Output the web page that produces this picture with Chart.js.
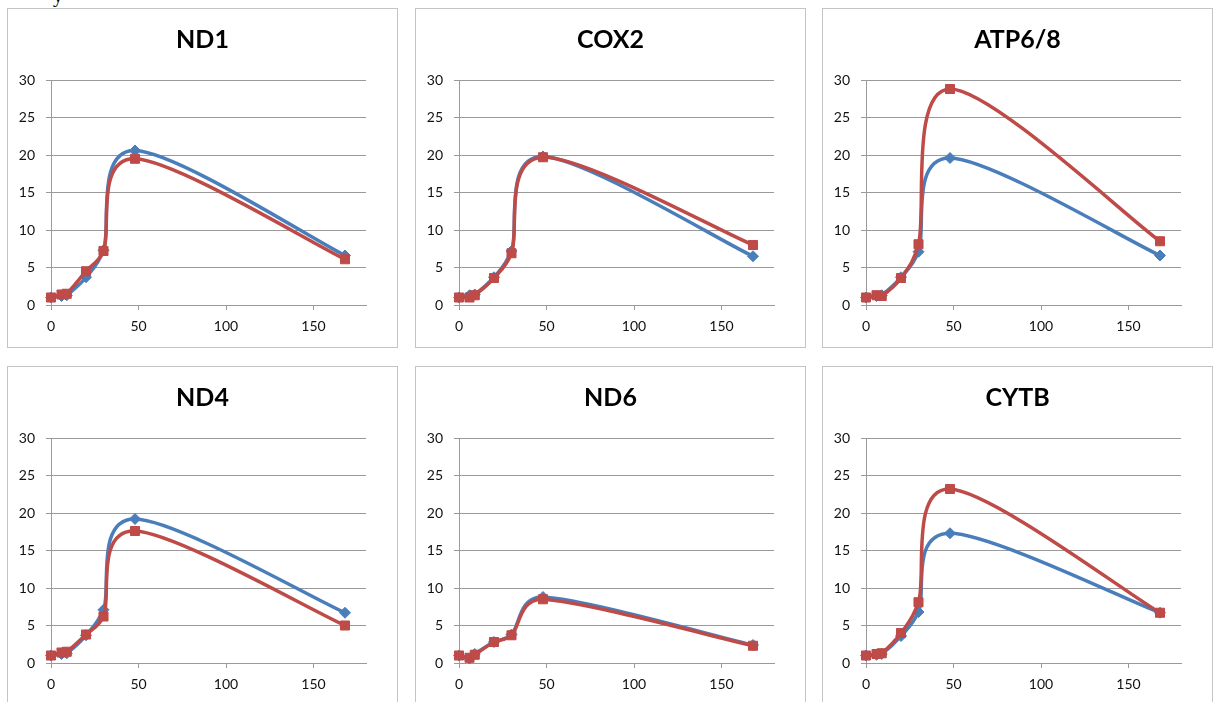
<!DOCTYPE html>
<html>
<head>
<meta charset="utf-8">
<script src="https://cdn.jsdelivr.net/npm/chart.js@4.4.1/dist/chart.umd.min.js"></script>
<style>
  html, body { margin:0; padding:0; background:#fff; width:1213px; height:702px; overflow:hidden; position:relative; }
  .panel { position:absolute; width:389px; height:338px; border:1px solid #c4c4c4; background:#fff; }
  .panel canvas { position:absolute; left:0; top:0; }
  .cut { position:absolute; left:53px; top:-16px; font-family:"Liberation Serif", serif; font-size:20px; color:#000; }
</style>
</head>
<body>
<div class="cut">y</div>
<div class="panel" style="left:7px;top:8px;"><canvas id="c0" width="389" height="338"></canvas></div>
<div class="panel" style="left:415px;top:8px;"><canvas id="c1" width="389" height="338"></canvas></div>
<div class="panel" style="left:822px;top:8px;"><canvas id="c2" width="389" height="338"></canvas></div>
<div class="panel" style="left:7px;top:366px;"><canvas id="c3" width="389" height="338"></canvas></div>
<div class="panel" style="left:415px;top:366px;"><canvas id="c4" width="389" height="338"></canvas></div>
<div class="panel" style="left:822px;top:366px;"><canvas id="c5" width="389" height="338"></canvas></div>
<script>
// ---- data ----
const HOURS = [0, 6, 9, 20, 30, 48, 168];
const X_TICKS = [0, 50, 100, 150];
const Y_TICKS = [0, 5, 10, 15, 20, 25, 30];
const TITLES = ['ND1', 'COX2', 'ATP6/8', 'ND4', 'ND6', 'CYTB'];

const ND1_S1  = [1.0, 1.2, 1.3, 3.7, 7.3, 20.6, 6.6];
const ND1_S2  = [1.0, 1.4, 1.5, 4.5, 7.2, 19.5, 6.1];
const COX2_S1 = [1.0, 1.3, 1.4, 3.7, 7.2, 19.8, 6.5];
const COX2_S2 = [1.0, 1.0, 1.3, 3.6, 6.9, 19.7, 8.0];
const ATP_S1  = [1.0, 1.2, 1.3, 3.7, 7.1, 19.6, 6.6];
const ATP_S2  = [1.0, 1.3, 1.2, 3.6, 8.1, 28.8, 8.5];
const ND4_S1  = [1.0, 1.2, 1.3, 3.7, 7.1, 19.2, 6.7];
const ND4_S2  = [1.0, 1.4, 1.5, 3.8, 6.2, 17.6, 5.0];
const ND6_S1  = [1.0, 0.6, 1.2, 2.8, 3.8, 8.8, 2.4];
const ND6_S2  = [1.0, 0.7, 1.1, 2.8, 3.7, 8.5, 2.3];
const CYTB_S1 = [1.0, 1.1, 1.2, 3.6, 6.8, 17.3, 6.7];
const CYTB_S2 = [1.0, 1.2, 1.3, 4.0, 8.1, 23.2, 6.7];

const SERIES1 = [ND1_S1, COX2_S1, ATP_S1, ND4_S1, ND6_S1, CYTB_S1];
const SERIES2 = [ND1_S2, COX2_S2, ATP_S2, ND4_S2, ND6_S2, CYTB_S2];

// ---- style ----
const BLUE = '#4A7EBB';
const RED = '#BE4B48';
const GRID = '#9a9a9a';
const FONT = 'Lato, "Open Sans", sans-serif';

// Excel-like smoothing: tangent (P[i+1]-P[i-1])/6, each arm limited to half its own segment
const excelSmooth = {
  id: 'excelSmooth',
  beforeDatasetDraw(chart, args) {
    const meta = args.meta;
    const line = meta.dataset;
    const pts = meta.data;
    const n = pts.length;
    for (let i = 0; i < n; i++) {
      const p = pts[i];
      const a = pts[Math.max(i - 1, 0)];
      const b = pts[Math.min(i + 1, n - 1)];
      const dx = (b.x - a.x) / 6, dy = (b.y - a.y) / 6;
      const arm = Math.hypot(dx, dy);
      let kIn = 1, kOut = 1;
      if (i > 0 && i < n - 1 && arm > 0) {
        const d01 = Math.hypot(p.x - a.x, p.y - a.y);
        const d12 = Math.hypot(b.x - p.x, b.y - p.y);
        kIn = Math.min(1, d01 / 2 / arm);
        kOut = Math.min(1, d12 / 2 / arm);
      }
      p.cp1x = p.x - dx * kIn; p.cp1y = p.y - dy * kIn;
      p.cp2x = p.x + dx * kOut; p.cp2y = p.y + dy * kOut;
    }
    line._pointsUpdated = true;
    line._path = undefined;
  }
};

function xy(vals) { return HOURS.map((h, i) => ({ x: h, y: vals[i] })); }

function makeChart(idx) {
  const ctx = document.getElementById('c' + idx);
  return new Chart(ctx, {
    type: 'scatter',
    data: {
      datasets: [
        { label: 'Series1', data: xy(SERIES1[idx]), showLine: true, tension: 0.4,
          borderColor: BLUE, backgroundColor: BLUE, borderWidth: 3.5,
          pointStyle: 'rectRot', pointRadius: 5.5, pointBorderWidth: 1,
          pointBorderColor: BLUE, pointBackgroundColor: BLUE, order: 1, clip: false },
        { label: 'Series2', data: xy(SERIES2[idx]), showLine: true, tension: 0.4,
          borderColor: RED, backgroundColor: RED, borderWidth: 3.5,
          pointStyle: 'rect', pointRadius: 6.4, pointBorderWidth: 1,
          pointBorderColor: RED, pointBackgroundColor: RED, order: 0, clip: false }
      ]
    },
    options: {
      responsive: false, animation: false, devicePixelRatio: 1,
      layout: { padding: 0 },
      plugins: {
        legend: { display: false },
        tooltip: { enabled: false },
        title: { display: true, text: TITLES[idx], color: '#000',
          font: { family: FONT, size: 25, weight: 'bold' },
          padding: { top: 16, bottom: 25 } }
      },
      scales: {
        x: {
          type: 'linear', min: 0, max: 180,
          afterBuildTicks(s) { s.ticks = X_TICKS.map(v => ({ value: v })); },
          afterFit(s) { s.height = 42; },
          ticks: { color: '#111', font: { family: FONT, size: 14 }, padding: 8 },
          grid: { drawOnChartArea: false, drawTicks: true, tickLength: 5, color: GRID },
          border: { display: true, color: GRID, width: 1 }
        },
        y: {
          type: 'linear', min: 0, max: 30,
          afterBuildTicks(s) { s.ticks = Y_TICKS.map(v => ({ value: v })); },
          afterFit(s) { s.width = 43; },
          ticks: { color: '#111', font: { family: FONT, size: 14 }, padding: 11 },
          grid: { color: GRID, tickLength: 5, lineWidth: 1 },
          border: { display: true, color: GRID, width: 1 }
        },
        yRight: {
          type: 'linear', position: 'right', display: true,
          afterFit(s) { s.width = 31; },
          ticks: { display: false },
          grid: { display: false, drawOnChartArea: false, drawTicks: false },
          border: { display: false }
        }
      }
    },
    plugins: [excelSmooth]
  });
}

function build() { for (let i = 0; i < 6; i++) makeChart(i); }
if (document.fonts && document.fonts.load) {
  Promise.all([
    document.fonts.load('bold 25px Lato'),
    document.fonts.load('14px Lato')
  ]).then(build, build);
} else { build(); }
</script>
</body>
</html>
